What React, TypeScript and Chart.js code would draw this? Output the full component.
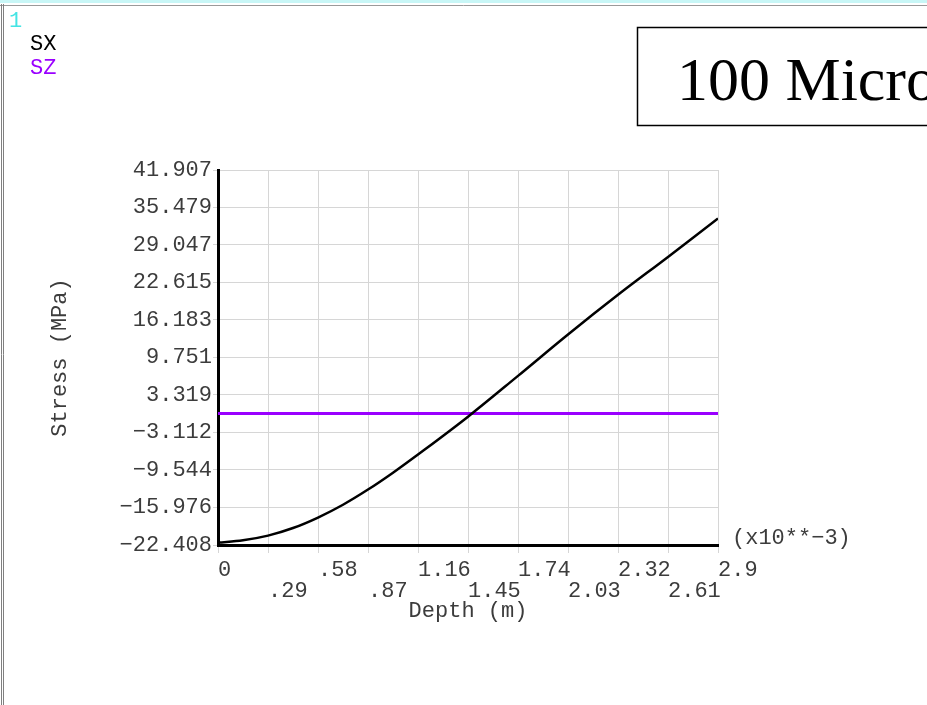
import { useEffect, useRef } from "react";
import { Chart, registerables } from "chart.js";

Chart.register(...registerables);

// ---- Data ----
const sxDepth = [0, 0.145, 0.29, 0.435, 0.58, 0.725, 0.87, 1.015, 1.16, 1.45, 1.74, 2.03, 2.32, 2.61, 2.9];
const sxStress = [-22.0, -21.6, -20.8, -19.5, -17.7, -15.5, -12.9, -10.0, -6.9, -0.4, 6.6, 13.7, 20.5, 27.0, 33.6];
const szDepth = [0, 2.9];
const szStress = [0.15, 0.15];

const xTickValues = [0, 0.29, 0.58, 0.87, 1.16, 1.45, 1.74, 2.03, 2.32, 2.61, 2.9];
const xTickLabels = ["0", ".29", ".58", ".87", "1.16", "1.45", "1.74", "2.03", "2.32", "2.61", "2.9"];
const yTickValues = [-22.408, -15.976, -9.544, -3.112, 3.319, 9.751, 16.183, 22.615, 29.047, 35.479, 41.907];
const yTickLabels = ["\u221222.408", "\u221215.976", "\u22129.544", "\u22123.112", "3.319", "9.751", "16.183", "22.615", "29.047", "35.479", "41.907"];

const seriesNames = ["SX", "SZ"];
const titleText = "100 Microns";
const xExponent = "(x10**\u22123)";
const windowNumber = "1";

const MONO = '"Liberation Mono", "DejaVu Sans Mono", monospace';
const GRID = "#d6d6d6";
const TEXT = "#3c3c3c";

export default function App() {
  const ref = useRef<HTMLCanvasElement>(null);

  useEffect(() => {
    const framePlugin = {
      id: "frame",
      beforeDraw(chart: any) {
        const ctx = chart.ctx;
        ctx.save();
        ctx.fillStyle = "#ffffff";
        ctx.fillRect(0, 0, chart.width, chart.height);
        // window frame
        ctx.fillStyle = "#c8f6f6";
        ctx.fillRect(0, 0, chart.width, 3);
        ctx.strokeStyle = "#9a9a9a";
        ctx.lineWidth = 1;
        ctx.beginPath();
        ctx.moveTo(0, 5.5);
        ctx.lineTo(chart.width, 5.5);
        ctx.stroke();
        ctx.strokeStyle = "#808080";
        ctx.beginPath();
        ctx.moveTo(1.5, 4);
        ctx.lineTo(1.5, chart.height);
        ctx.moveTo(3.5, 4);
        ctx.lineTo(3.5, chart.height);
        ctx.stroke();
        // window number
        ctx.font = `22px ${MONO}`;
        ctx.fillStyle = "#44e4e4";
        ctx.textAlign = "left";
        ctx.textBaseline = "middle";
        ctx.fillText(windowNumber, 9, 21);
        // legend
        chart.data.datasets.forEach((ds: any, i: number) => {
          ctx.fillStyle = ds.borderColor;
          ctx.fillText(ds.label, 30, 44 + i * 24);
        });
        // title box
        ctx.strokeStyle = "#000";
        ctx.lineWidth = 1.5;
        ctx.strokeRect(637.5, 27.5, 400, 98);
        ctx.fillStyle = "#000";
        ctx.font = '62px "Liberation Serif", "Times New Roman", serif';
        ctx.textBaseline = "alphabetic";
        ctx.fillText(titleText, 677, 100);
        ctx.restore();
      },
      afterDraw(chart: any) {
        const ctx = chart.ctx;
        const a = chart.chartArea;
        ctx.save();
        ctx.font = `22px ${MONO}`;
        ctx.fillStyle = TEXT;
        ctx.textAlign = "left";
        ctx.textBaseline = "middle";
        ctx.fillText(xExponent, a.right + 14, a.bottom - 7);
        ctx.restore();
      },
    };

    const chart = new Chart(ref.current!, {
      type: "line",
      data: {
        datasets: [
          {
            label: seriesNames[0],
            data: sxDepth.map((x, i) => ({ x, y: sxStress[i] })),
            borderColor: "#000000",
            borderWidth: 2.5,
            pointRadius: 0,
            tension: 0.35,
            fill: false,
          },
          {
            label: seriesNames[1],
            data: szDepth.map((x, i) => ({ x, y: szStress[i] })),
            borderColor: "#9a00ff",
            borderWidth: 3,
            pointRadius: 0,
            fill: false,
          },
        ],
      },
      options: {
        responsive: false,
        animation: false,
        devicePixelRatio: 1,
        layout: { padding: { left: 40, right: 209, top: 170, bottom: 70 } },
        plugins: { legend: { display: false }, tooltip: { enabled: false } },
        scales: {
          x: {
            type: "linear",
            min: 0,
            max: 2.9,
            afterBuildTicks: (s: any) => {
              s.ticks = xTickValues.map((v) => ({ value: v }));
            },
            afterFit: (s: any) => {
              s.height = 90;
            },
            ticks: {
              autoSkip: false,
              maxRotation: 0,
              align: "start",
              padding: 7,
              color: TEXT,
              font: { family: MONO, size: 22, lineHeight: 0.95 },
              callback: (_v: any, i: number) => (i % 2 === 0 ? [xTickLabels[i], ""] : ["", xTickLabels[i]]),
            },
            grid: { color: GRID, lineWidth: 1, tickLength: 8, drawTicks: true },
            border: { color: "#000", width: 3 },
            title: {
              display: true,
              text: "Depth (m)",
              color: TEXT,
              font: { family: MONO, size: 22 },
              padding: { top: 0, bottom: 11 },
            },
          },
          y: {
            type: "linear",
            min: -22.408,
            max: 41.907,
            afterBuildTicks: (s: any) => {
              s.ticks = yTickValues.map((v) => ({ value: v }));
            },
            afterFit: (s: any) => {
              s.width = 178;
            },
            ticks: {
              autoSkip: false,
              padding: 1,
              color: TEXT,
              font: { family: MONO, size: 22 },
              callback: (_v: any, i: number) => yTickLabels[i],
            },
            grid: { color: GRID, lineWidth: 1, tickLength: 5, drawTicks: true },
            border: { color: "#000", width: 3 },
            title: {
              display: true,
              text: "Stress (MPa)",
              color: TEXT,
              font: { family: MONO, size: 22 },
              padding: { top: 7, bottom: 0 },
            },
          },
        },
      },
      plugins: [framePlugin],
    } as any);
    return () => chart.destroy();
  }, []);

  return (
    <div style={{ position: "fixed", left: 0, top: 0, width: 927, height: 705, background: "#fff" }}>
      <canvas ref={ref} width={927} height={705} style={{ display: "block", width: 927, height: 705 }} />
    </div>
  );
}
